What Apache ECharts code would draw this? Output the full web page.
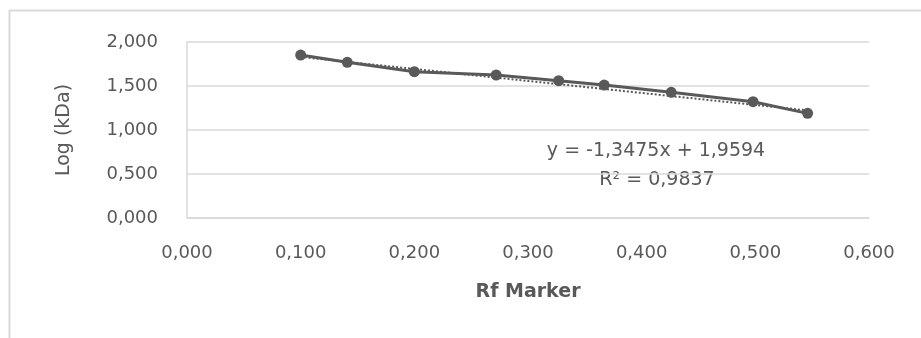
<!DOCTYPE html>
<html>
<head>
<meta charset="utf-8">
<script src="https://cdn.jsdelivr.net/npm/echarts@6/dist/echarts.min.js"></script>
<style>
  html, body { margin: 0; padding: 0; background: #fff; }
  #main { width: 921px; height: 338px; }
</style>
</head>
<body>
<div id="main"></div>
<script>
// marker Rf values and log(kDa)
var rfValues = [0.100, 0.141, 0.200, 0.272, 0.327, 0.367, 0.426, 0.498, 0.546];
var logKda = [1.852, 1.769, 1.663, 1.625, 1.560, 1.511, 1.428, 1.322, 1.189];

// linear trendline ends, as drawn
var trendX = [0.100, 0.546];
var trendY = [1.830, 1.222];

var equationText = 'y = -1,3475x + 1,9594';
var r2Text = 'R\u00B2 = 0,9837';

var textColor = '#595959';
var gridColor = '#d9d9d9';
var font = 'DejaVu Sans';

function fmt(v) {
  return v.toFixed(3).replace('.', ',');
}

var chart = echarts.init(document.getElementById('main'));

var option = {
  animation: false,
  grid: { left: 187, right: 52, top: 42, bottom: 120 },
  xAxis: {
    type: 'value',
    min: 0,
    max: 0.6,
    interval: 0.1,
    name: 'Rf Marker',
    nameLocation: 'middle',
    nameGap: 65,
    nameTextStyle: { color: textColor, fontFamily: font, fontSize: 19, fontWeight: 'bold' },
    axisLine: { show: true, lineStyle: { color: gridColor, width: 1.5 } },
    axisTick: { show: false },
    splitLine: { show: false },
    axisLabel: {
      color: textColor, fontFamily: font, fontSize: 18, margin: 26,
      formatter: fmt
    }
  },
  yAxis: {
    type: 'value',
    min: 0,
    max: 2,
    interval: 0.5,
    name: 'Log (kDa)',
    nameLocation: 'middle',
    nameGap: 113,
    nameRotate: 90,
    nameTextStyle: { color: textColor, fontFamily: font, fontSize: 19 },
    axisLine: { show: true, lineStyle: { color: gridColor, width: 1.5 } },
    axisTick: { show: false },
    splitLine: { show: true, lineStyle: { color: gridColor, width: 1.5 } },
    axisLabel: {
      color: textColor, fontFamily: font, fontSize: 18, margin: 29,
      formatter: fmt
    }
  },
  graphic: [
    {
      type: 'polyline',
      shape: { points: [[9.5, 338], [9.5, 10.5], [921, 10.5]] },
      style: { stroke: gridColor, lineWidth: 2, fill: null },
      silent: true
    },
    {
      type: 'text',
      x: 656, y: 151,
      style: {
        text: equationText, fill: textColor, font: '19px "DejaVu Sans"',
        align: 'center', verticalAlign: 'middle'
      }
    },
    {
      type: 'text',
      x: 657, y: 180,
      style: {
        text: r2Text, fill: textColor, font: '19px "DejaVu Sans"',
        align: 'center', verticalAlign: 'middle'
      }
    }
  ],
  series: [
    {
      name: 'Trend',
      type: 'line',
      data: trendX.map(function (x, i) { return [x, trendY[i]]; }),
      symbol: 'none',
      lineStyle: { color: textColor, width: 2, type: 'dotted' },
      z: 1
    },
    {
      name: 'Marker',
      type: 'line',
      data: rfValues.map(function (x, i) { return [x, logKda[i]]; }),
      symbol: 'circle',
      symbolSize: 11,
      itemStyle: { color: textColor },
      lineStyle: { color: textColor, width: 3 },
      z: 2
    }
  ]
};

chart.setOption(option);
</script>
</body>
</html>
